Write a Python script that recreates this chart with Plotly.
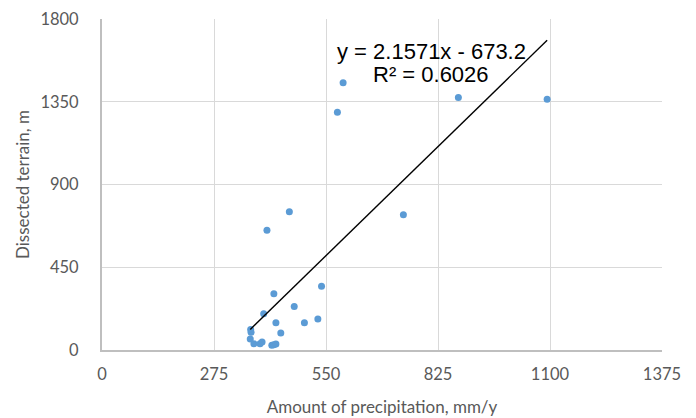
import plotly.graph_objects as go

precip = [592, 578, 875, 1093, 740, 460, 405, 539, 422, 472, 397, 427, 497, 530,
          439, 365, 366, 364, 373, 388, 393, 417, 422, 427]
terrain = [1454, 1293, 1373, 1364, 736, 752, 651, 346, 306, 236, 197, 148, 148, 169,
           92, 112, 97, 60, 34, 34, 43, 26, 29, 33]
slope = 2.1571
intercept = -673.2
r2 = 0.6026
x_ticks = [0, 275, 550, 825, 1100, 1375]
y_ticks = [0, 450, 900, 1350, 1800]

x0, x1 = min(precip), max(precip)
trend_x = [x0, x1]
trend_y = [slope * v + intercept for v in trend_x]

fig = go.Figure()
fig.add_trace(go.Scatter(x=precip, y=terrain, mode="markers",
                         marker=dict(color="#5b9bd5", size=7), showlegend=False))
fig.add_trace(go.Scatter(x=trend_x, y=trend_y, mode="lines",
                         line=dict(color="black", width=1.4), showlegend=False))

eq_font = dict(family="Liberation Sans, Arial", size=22, color="black")
fig.add_annotation(x=809, y=1621, xref="x", yref="y", showarrow=False,
                   text=f"y = {slope}x - {abs(intercept)}", font=eq_font)
fig.add_annotation(x=809, y=1496, xref="x", yref="y", showarrow=False,
                   text=f"R² = {r2}", font=eq_font)

tick_font = dict(family="Lato, Open Sans, sans-serif", size=16.5, color="#595959")
title_font = dict(family="Lato, Open Sans, sans-serif", size=17, color="#595959")

fig.update_xaxes(range=[0, 1375], tickvals=x_ticks, showgrid=True, gridcolor="#d9d9d9",
                 gridwidth=1.3, zeroline=False, showline=True, linecolor="#bfbfbf",
                 linewidth=2, tickfont=tick_font, ticks="outside", ticklen=8,
                 tickcolor="rgba(0,0,0,0)", automargin=False,
                 title=dict(text="Amount of precipitation, mm/y", font=title_font, standoff=18))
fig.update_yaxes(range=[0, 1800], tickvals=y_ticks, showgrid=True, gridcolor="#d9d9d9",
                 gridwidth=1.3, zeroline=False, showline=True, linecolor="#bfbfbf",
                 linewidth=2, tickfont=tick_font, ticks="outside", ticklen=18,
                 tickcolor="rgba(0,0,0,0)", automargin=False,
                 title=dict(text="Dissected terrain, m", font=title_font, standoff=6))

fig.update_layout(width=688, height=410, margin=dict(l=94, r=34, t=11, b=68),
                  plot_bgcolor="white", paper_bgcolor="white")

fig.write_html("out.html")
